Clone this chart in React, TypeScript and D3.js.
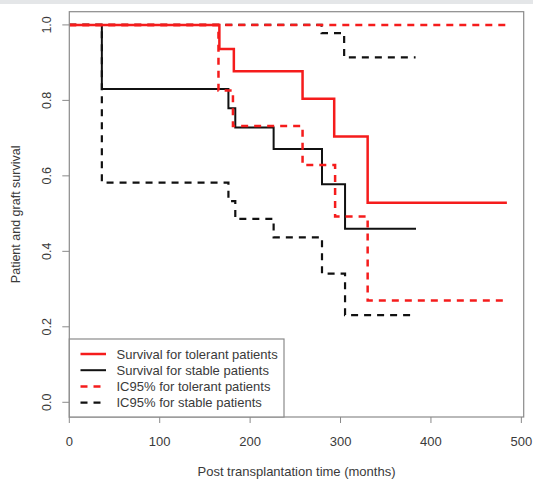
import * as d3 from "d3";

const W = 533;
const H = 481;
const M = { left: 69.3, right: 523.7, top: 11.7, bottom: 417 };

// Kaplan-Meier step curves (time in months, survival)
const tolerantTimes = [0, 166, 182, 258, 293, 330, 484];
const tolerantSurv = [1, 0.936, 0.877, 0.804, 0.704, 0.529, 0.529];
const tolerantUpperTimes = [0, 484];
const tolerantUpper = [1, 1];
const tolerantLowerTimes = [0, 165, 181, 258, 294, 330, 484];
const tolerantLower = [1, 0.826, 0.732, 0.629, 0.492, 0.27, 0.27];

const stableTimes = [0, 36, 176, 183.6, 226, 279.5, 305, 383.5];
const stableSurv = [1, 0.83, 0.779, 0.728, 0.671, 0.578, 0.46, 0.46];
const stableUpperTimes = [0, 279, 304, 383];
const stableUpper = [1, 0.978, 0.914, 0.914];
const stableLowerTimes = [0, 36, 176, 183.6, 226, 279.5, 305, 383.5];
const stableLower = [1, 0.582, 0.533, 0.486, 0.437, 0.341, 0.231, 0.231];

const xTicks = [0, 100, 200, 300, 400, 500];
const yTicks = [0, 0.2, 0.4, 0.6, 0.8, 1.0];

const legendLabels = [
	"Survival for tolerant patients",
	"Survival for stable patients",
	"IC95% for tolerant patients",
	"IC95% for stable patients",
];

const RED = "#f51c1c";
const BLACK = "#111";
const AXIS = "#8a8a8a";
const TEXT = "#3a3a3a";
const FONT = "Liberation Sans, Arial, sans-serif";

export default function App() {
	const x = d3.scaleLinear().domain([0, 502.6]).range([M.left, M.right]);
	const y = d3.scaleLinear().domain([-0.039, 1.035]).range([M.bottom, M.top]);

	const step = (ts: number[], vs: number[]) =>
		d3
			.line<number>()
			.x((_, i) => x(ts[i]))
			.y((v) => y(v))
			.curve(d3.curveStepAfter)(vs) ?? "";

	const series = [
		{ d: step(stableUpperTimes, stableUpper), color: BLACK, w: 2.2, dash: "7,6" },
		{ d: step(stableLowerTimes, stableLower), color: BLACK, w: 2.2, dash: "7,6" },
		{ d: step(stableTimes, stableSurv), color: BLACK, w: 2, dash: undefined },
		{ d: step(tolerantUpperTimes, tolerantUpper), color: RED, w: 2.5, dash: "7,6" },
		{ d: step(tolerantLowerTimes, tolerantLower), color: RED, w: 2.5, dash: "7,6" },
		{ d: step(tolerantTimes, tolerantSurv), color: RED, w: 2.5, dash: undefined },
	];

	const legendStyles = [
		{ color: RED, w: 2.5, dash: undefined },
		{ color: BLACK, w: 2, dash: undefined },
		{ color: RED, w: 2.5, dash: "7,6" },
		{ color: BLACK, w: 2.2, dash: "7,6" },
	];

	const cy = (M.top + M.bottom) / 2;
	const cx = (M.left + M.right) / 2;

	return (
		<svg
			width={W}
			height={H}
			style={{ position: "absolute", left: 0, top: 0, background: "#fff" }}
			fontFamily={FONT}
		>
			<rect x={0} y={0} width={W} height={4} fill="#e4e6e8" />

			{series.map((s, i) => (
				<path
					key={i}
					d={s.d}
					fill="none"
					stroke={s.color}
					strokeWidth={s.w}
					strokeDasharray={s.dash}
				/>
			))}

			{/* plot box */}
			<rect
				x={M.left}
				y={M.top}
				width={M.right - M.left}
				height={M.bottom - M.top}
				fill="none"
				stroke={AXIS}
				strokeWidth={1.2}
			/>

			{/* x axis */}
			{xTicks.map((t) => (
				<g key={t}>
					<line x1={x(t)} x2={x(t)} y1={M.bottom} y2={M.bottom + 6} stroke={AXIS} />
					<text x={x(t)} y={441.5} textAnchor="middle" dominantBaseline="central" fontSize={13} fill={TEXT}>
						{t}
					</text>
				</g>
			))}
			<text x={cx} y={471} textAnchor="middle" dominantBaseline="central" fontSize={13} fill={TEXT}>
				Post transplantation time (months)
			</text>

			{/* y axis */}
			{yTicks.map((t) => (
				<g key={t}>
					<line x1={M.left - 7} x2={M.left} y1={y(t)} y2={y(t)} stroke={AXIS} />
					<text
						transform={`translate(46.5,${y(t)}) rotate(-90)`}
						textAnchor="middle"
						dominantBaseline="central"
						fontSize={12.5}
						fill={TEXT}
					>
						{t.toFixed(1)}
					</text>
				</g>
			))}
			<text
				transform={`translate(16,${cy}) rotate(-90)`}
				textAnchor="middle"
				dominantBaseline="central"
				fontSize={12.5}
				fill={TEXT}
			>
				Patient and graft survival
			</text>

			{/* legend */}
			<rect x={M.left} y={339} width={284 - M.left} height={M.bottom - 339} fill="#fff" stroke={AXIS} strokeWidth={1.2} />
			{legendLabels.map((lab, i) => {
				const ly = 354 + i * 16.2;
				const st = legendStyles[i];
				return (
					<g key={lab}>
						<line x1={80.5} x2={106} y1={ly} y2={ly} stroke={st.color} strokeWidth={st.w} strokeDasharray={st.dash} />
						<text x={116.5} y={ly} dominantBaseline="central" fontSize={13} fill={TEXT}>
							{lab}
						</text>
					</g>
				);
			})}
		</svg>
	);
}
